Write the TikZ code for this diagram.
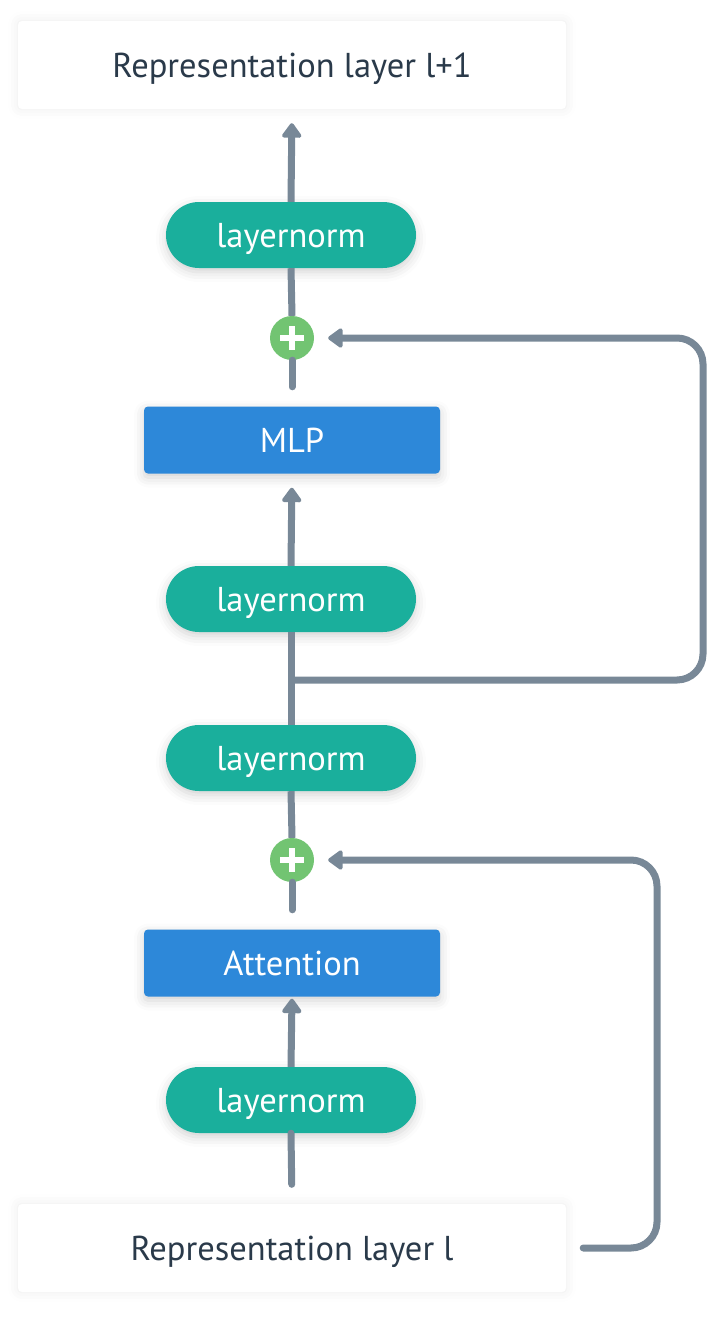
\documentclass[tikz,border=0pt]{standalone}
\usepackage{fontspec}
\setmainfont{PT Sans}
\usetikzlibrary{arrows.meta,shadows.blur}
\definecolor{teal}{HTML}{1AAF9C}
\definecolor{blk}{HTML}{2D88D9}
\definecolor{grn}{HTML}{72C472}
\definecolor{lgray}{HTML}{788897}
\definecolor{dtext}{HTML}{2A3A4A}
\tikzset{
  repbox/.style={fill=white, minimum width=548pt, minimum height=88pt, rounded corners=4pt,
    text=dtext, font=\fontsize{34.5}{40}\selectfont, text depth=0pt,
    blur shadow={shadow xshift=0pt, shadow yshift=0pt, shadow blur radius=10pt, shadow opacity=8}},
  norm/.style={fill=teal, minimum width=250pt, minimum height=66pt, rounded corners=33pt,
    text=white, font=\fontsize{34.5}{40}\selectfont, text depth=0pt,
    blur shadow={shadow xshift=0pt, shadow yshift=-4pt, shadow blur radius=10pt, shadow opacity=18}},
  block/.style={fill=blk, minimum width=296pt, minimum height=67pt, rounded corners=4pt,
    text=white, font=\fontsize{34.5}{40}\selectfont,
    blur shadow={shadow xshift=0pt, shadow yshift=-4pt, shadow blur radius=10pt, shadow opacity=18}},
  plusnode/.style={circle, fill=grn, minimum size=44pt, inner sep=0pt},
  conn/.style={draw=lgray, line width=7pt},
  tip/.style={-{Triangle[width=22pt,length=16pt,round]}},
}
\begin{document}
\begin{tikzpicture}[x=1pt,y=-1pt]
\useasboundingbox (0,0) rectangle (728,1344);
\node[repbox] (top) at (292,65) {Representation layer l+1};
\node[norm] (ln1) at (291,235) {layernorm};
\node[plusnode] (p1) at (292,338) {};
\node[block] (mlp) at (292,440) {MLP};
\node[norm] (ln2) at (291,599) {layernorm};
\node[norm] (ln3) at (291,758) {layernorm};
\node[plusnode] (p2) at (292,860) {};
\node[block] (att) at (292,963) {Attention};
\node[norm] (ln4) at (291,1100) {layernorm};
\node[repbox] (bot) at (292,1248) {Representation layer l};
\foreach \p in {p1,p2}{
  \draw[white, line width=6pt] ([yshift=-12pt]\p.center) -- ([yshift=12pt]\p.center);
  \draw[white, line width=6pt] ([xshift=-12pt]\p.center) -- ([xshift=12pt]\p.center);
}
\coordinate (br) at (292,680);
\draw[conn, tip, shorten >=14pt] (ln1.north) -- (top.south);
\draw[conn] (ln1.south) -- (p1.north);
\draw[conn, line cap=round, shorten >=19.5pt] (p1.south) -- (mlp.north);
\draw[conn, tip, shorten >=14pt] (ln2.north) -- (mlp.south);
\draw[conn] (ln2.south) -- (ln3.north);
\draw[conn, tip, rounded corners=26pt, shorten >=14pt] (br) -- (703,680) -- (703,338) -- (p1.east);
\draw[conn] (ln3.south) -- (p2.north);
\draw[conn, line cap=round, shorten >=19.5pt] (p2.south) -- (att.north);
\draw[conn, tip, shorten >=2pt] (ln4.north) -- (att.south);
\draw[conn, line cap=round, shorten >=19.5pt] (ln4.south) -- (bot.north);
\draw[conn, tip, line cap=round, rounded corners=26pt, shorten >=14pt, shorten <=17pt] (bot.east) -- (657,1248) -- (657,860) -- (p2.east);
\end{tikzpicture}
\end{document}
